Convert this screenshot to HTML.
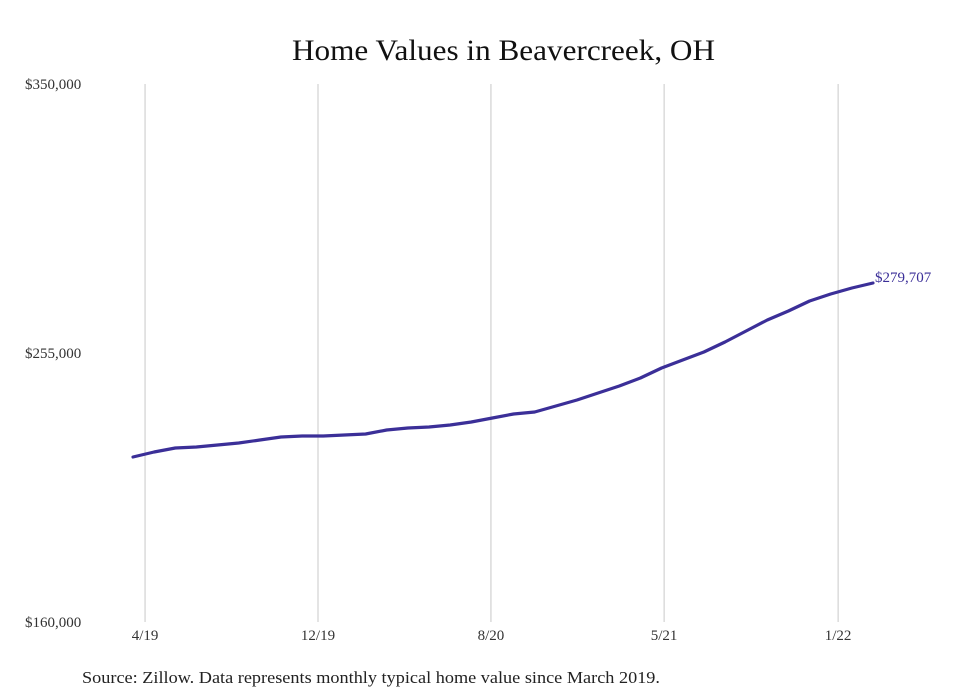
<!DOCTYPE html>
<html><head><meta charset="utf-8"><style>
html,body{margin:0;padding:0;background:#fff;}
svg{display:block;font-family:"Liberation Serif",serif;}
</style></head><body>
<svg id="chart" width="980" height="699" viewBox="0 0 980 699" xmlns="http://www.w3.org/2000/svg">
<rect width="980" height="699" fill="#fff"/>
<text x="292" y="60" font-size="30" fill="#111" textLength="423" lengthAdjust="spacingAndGlyphs">Home Values in Beavercreek, OH</text>
<g id="grid"></g>
<g id="yaxis"></g>
<g id="xaxis"></g>
<g id="series"></g>
<text x="82" y="683" font-size="17" fill="#222" textLength="578" lengthAdjust="spacingAndGlyphs">Source: Zillow. Data represents monthly typical home value since March 2019.</text>
</svg>
<script>
const values = [218271,220037,221450,221803,222509,223216,224275,225335,225688,225688,226041,226394,227807,228513,228866,229573,230632,232045,233457,234164,236283,238402,240874,243346,246172,249703,252529,255354,258886,262771,266655,269834,273365,275837,277956,279707];
const xTickLabels = ["4/19","12/19","8/20","5/21","1/22"];
const xTickIndex = [0.57,8.75,16.93,25.12,33.35];
const yTicks = [160000,255000,350000];
const yTickLabels = ["$160,000","$255,000","$350,000"];
const lastLabel = "$279,707";

const NS="http://www.w3.org/2000/svg";
const x0=133,x1=873,yTop=84,yBot=622,vMin=160000,vMax=350000;
const xs=i=>x0+(x1-x0)*i/(values.length-1);
const ys=v=>yBot-(v-vMin)/(vMax-vMin)*(yBot-yTop);
function mk(tag,attrs,parent){const e=document.createElementNS(NS,tag);for(const k in attrs)e.setAttribute(k,attrs[k]);parent.appendChild(e);return e;}
const grid=document.getElementById('grid'),xa=document.getElementById('xaxis'),ya=document.getElementById('yaxis'),se=document.getElementById('series');
xTickIndex.forEach((ti,k)=>{
  const x=xs(ti);
  const l=mk('line',{x1:x,x2:x,y1:yTop,y2:yBot,stroke:'#c8c8c8','stroke-width':1},grid);
  
  
  const t=mk('text',{x:x,y:640,'text-anchor':'middle','font-size':15,fill:'#333'},xa);
  t.textContent=xTickLabels[k];
  
  
});
yTicks.forEach((v,k)=>{
  const t=mk('text',{x:25,y:ys(v)+5,'font-size':15,fill:'#333'},ya);
  t.textContent=yTickLabels[k];
  
  
});
const d=values.map((v,i)=>(i?'L':'M')+xs(i).toFixed(1)+','+ys(v).toFixed(1)).join(' ');
const p=mk('path',{d:d,fill:'none',stroke:'#3b2f98','stroke-width':3.2,'stroke-linejoin':'round','stroke-linecap':'round'},se);


const lv=values[values.length-1];
const lt=mk('text',{x:xs(values.length-1)+2,y:ys(lv)-1,'font-size':15,fill:'#3b2f98'},se);
lt.textContent=lastLabel;


</script>
</body></html>
